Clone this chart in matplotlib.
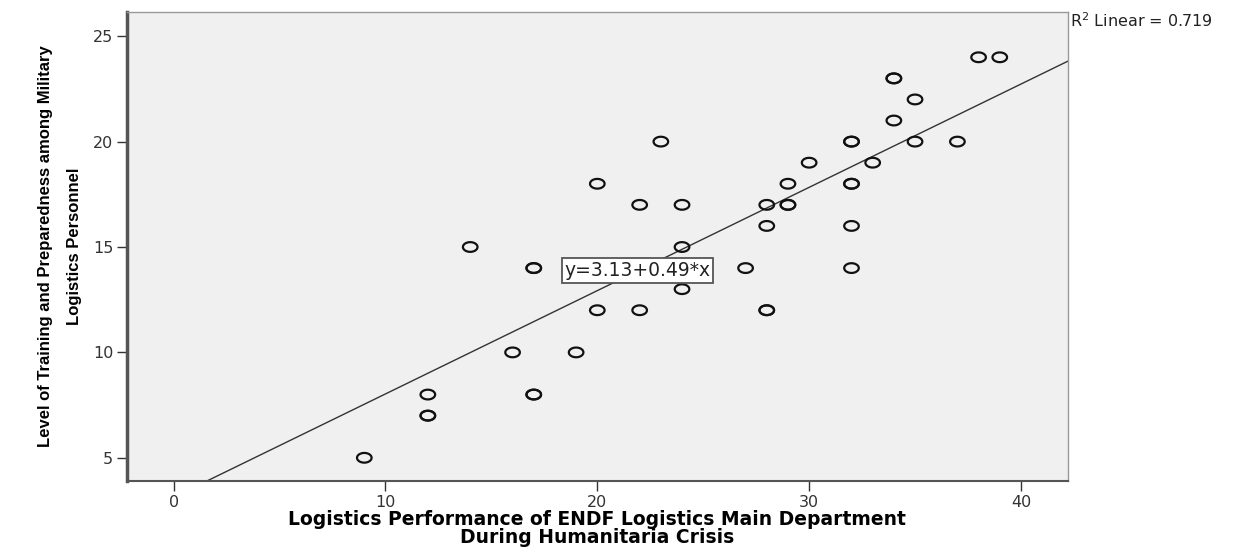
import numpy as np
import matplotlib
matplotlib.use("Agg")
import matplotlib.pyplot as plt
from matplotlib.path import Path

# Logistics performance (x) vs level of training (y); repeated pairs are duplicates
perf = [9, 12, 12, 12, 14, 16, 17, 17, 17, 17, 19, 20, 20, 22, 22, 23, 24, 24, 24, 27,
        28, 28, 28, 28, 29, 29, 29, 30, 32, 32, 32, 32, 32, 32, 33, 34, 34, 34, 35, 35,
        37, 38, 39]
training = [5, 8, 7, 7, 15, 10, 14, 14, 8, 8, 10, 18, 12, 17, 12, 20, 17, 15, 13, 14,
            17, 16, 12, 12, 18, 17, 17, 19, 20, 20, 18, 18, 16, 14, 19, 23, 23, 21, 22, 20,
            20, 24, 24]
intercept = 3.13
slope = 0.49
r2 = 0.719

x_ticks = [0, 10, 20, 30, 40]
y_ticks = [5, 10, 15, 20, 25]

# elliptical open marker like the SPSS output
t = np.linspace(0, 2 * np.pi, 60)
ellipse = Path(np.column_stack([1.5 * np.cos(t), np.sin(t)]), closed=True)

fig = plt.figure(figsize=(12.53, 5.49), dpi=100)
ax = fig.add_axes([0.1014, 0.1239, 0.7506, 0.8543])
ax.set_facecolor("#f0f0f0")

ax.set_xlim(-2.2, 42.2)
ax.set_ylim(3.9, 26.15)

xs = np.array(ax.get_xlim())
ax.plot(xs, intercept + slope * xs, color="#333333", lw=1.0, zorder=2)

ax.scatter(perf, training, marker=ellipse, s=110, facecolors="none",
           edgecolors="#111111", linewidths=1.6, zorder=3)

ax.text(21.9, 13.9, "y=3.13+0.49*x", ha="center", va="center", fontsize=13.5,
        color="#222222", zorder=4,
        bbox=dict(boxstyle="square,pad=0.15", fc="white", ec="#555555", lw=1.3))

fig.text(0.854, 0.962, "R$^2$ Linear = %.3f" % r2, fontsize=11.5, color="#222222",
         ha="left", va="center")

ax.set_xticks(x_ticks)
ax.set_yticks(y_ticks)
ax.tick_params(axis="both", direction="out", length=7, width=1.0, color="#333333",
               labelsize=11.5, labelcolor="#333333", pad=3)
for s in ["top", "right"]:
    ax.spines[s].set_color("#999999")
    ax.spines[s].set_linewidth(1.0)
ax.spines["left"].set_color("#555555")
ax.spines["left"].set_linewidth(2.5)
ax.spines["bottom"].set_color("#555555")
ax.spines["bottom"].set_linewidth(1.5)

ax.set_xlabel("Logistics Performance of ENDF Logistics Main Department\nDuring Humanitaria Crisis",
              fontsize=13.5, fontweight="bold", family="DejaVu Sans",
              linespacing=0.92, labelpad=0)
ax.set_ylabel("Level of Training and Preparedness among Military\nLogistics Personnel",
              fontsize=12, fontweight="bold", family=["Liberation Sans", "DejaVu Sans"],
              linespacing=2.1, labelpad=8)

fig.savefig("out.png", dpi=100)
